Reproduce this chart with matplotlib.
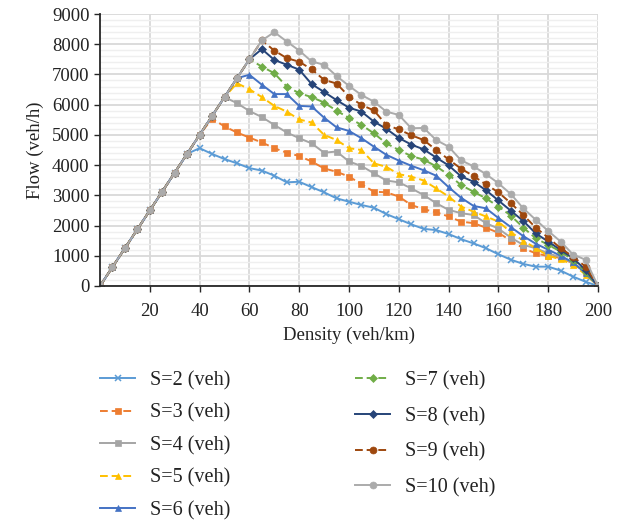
import numpy as np
import matplotlib
matplotlib.use("Agg")
import matplotlib.pyplot as plt
from matplotlib.ticker import MultipleLocator

plt.rcParams['font.family'] = ['Liberation Serif', 'DejaVu Serif']

density = list(range(0, 205, 5))

# free-flow branch shared by all curves (veh/h)
free_flow = [0, 625, 1250, 1875, 2500, 3125, 3750, 4375, 5000, 5625,
             6250, 6875, 7500, 8125]

s2 = free_flow[:8] + [4560, 4370, 4200, 4060, 3900, 3820, 3650, 3430, 3450, 3270,
                      3100, 2900, 2790, 2680, 2590, 2380, 2210, 2040, 1890, 1850,
                      1720, 1550, 1410, 1250, 1050, 870, 730, 640, 640, 510,
                      310, 140, 0]
s3 = free_flow[:9] + [5540, 5280, 5080, 4910, 4750, 4560, 4410, 4300, 4120,
                      3890, 3780, 3620, 3370, 3120, 3100, 2960, 2680, 2540, 2440,
                      2300, 2130, 2080, 1930, 1760, 1500, 1250, 1080, 990, 930,
                      750, 450, 0]
s4 = free_flow[:11] + [6050, 5790, 5590, 5330, 5080, 4890, 4720, 4410, 4450,
                       4120, 3970, 3730, 3490, 3430, 3230, 3010, 2740, 2520,
                       2410, 2350, 2080, 1900, 1600, 1360, 1250, 1080, 950, 760,
                       480, 0]
s5 = free_flow[:11] + [6710, 6510, 6250, 5960, 5770, 5510, 5410, 5000, 4830,
                       4560, 4500, 4060, 3940, 3700, 3620, 3490, 3230, 2960,
                       2630, 2460, 2300, 2130, 1780, 1500, 1250, 1000, 880, 700,
                       380, 0]
s6 = free_flow[:12] + [6990, 6660, 6350, 6350, 5960, 5940, 5570, 5250, 5130,
                       4890, 4610, 4340, 4150, 3980, 3830, 3650, 3270, 2920,
                       2650, 2570, 2250, 1950, 1650, 1400, 1200, 1000, 780, 420, 0]
s7 = free_flow[:13] + [7260, 7040, 6600, 6380, 6250, 6070, 5800, 5560, 5330,
                       5050, 4720, 4500, 4300, 4180, 3960, 3680, 3340, 3120,
                       2900, 2630, 2330, 1930, 1580, 1360, 1140, 860, 470, 0]
s8 = free_flow[:13] + [7840, 7480, 7320, 7160, 6680, 6420, 6150, 5900, 5770,
                       5440, 5200, 4900, 4680, 4520, 4250, 3990, 3630, 3450,
                       3170, 2830, 2490, 2150, 1740, 1470, 1190, 920, 530, 0]
s9 = free_flow[:14] + [7790, 7540, 7420, 7170, 6820, 6700, 6270, 5990, 5810,
                       5330, 5180, 4990, 4830, 4500, 4190, 3880, 3640, 3360,
                       3100, 2740, 2350, 1930, 1600, 1250, 970, 640, 0]
s10 = free_flow[:14] + [8400, 8090, 7790, 7430, 7320, 6950, 6620, 6320, 6100,
                        5770, 5660, 5220, 5230, 4830, 4610, 4160, 3960, 3700,
                        3400, 3040, 2570, 2190, 1820, 1470, 1040, 870, 0]

series = [s2, s3, s4, s5, s6, s7, s8, s9, s10]
labels = ['S=%d (veh)' % s for s in range(2, 11)]
colors = ['#5B9BD5', '#ED7D31', '#A5A5A5', '#FFC000', '#4472C4',
          '#70AD47', '#264478', '#9E480E', '#ABABAB']
markers = ['x', 's', 's', '^', '^', 'D', 'D', 'o', 'o']
msizes = [5, 4, 4, 5, 5, 4, 4, 5, 5]
styles = ['-', '--', '-', '--', '-', '--', '-', '--', '-']

fig = plt.figure(figsize=(6.29, 5.21), dpi=100)
ax = fig.add_axes([100 / 629, 1 - 286 / 521, 498 / 629, 272 / 521])

handles = []
for y, lab, c, m, ms, ls in zip(series, labels, colors, markers, msizes, styles):
    h, = ax.plot(density, y, color=c, marker=m, markersize=ms, linestyle=ls,
                 linewidth=1.4, label=lab, dashes=(4, 2) if ls == '--' else (None, None),
                 markeredgewidth=1.1 if m == 'x' else 0.5)
    handles.append(h)

ax.set_xlim(0, 200)
ax.set_ylim(0, 9000)
ax.yaxis.set_major_locator(MultipleLocator(1000))
ax.yaxis.set_minor_locator(MultipleLocator(200))
ax.set_xticks(range(20, 201, 20))
ax.grid(which='major', color='#D9D9D9', linewidth=1.3)
ax.grid(which='minor', axis='y', color='#EFEFEF', linewidth=1.0)
ax.set_axisbelow(True)
for side in ['top', 'right']:
    ax.spines[side].set_visible(False)
for side in ['left', 'bottom']:
    ax.spines[side].set_color('#262626')
    ax.spines[side].set_linewidth(1.3)
ax.tick_params(which='major', direction='out', length=4, width=1.0,
               color='#262626', labelsize=13.5, labelcolor='#222222')
ax.tick_params(which='minor', length=0)
ax.tick_params(axis='x', pad=8)
ax.set_xlabel('Density (veh/km)', fontsize=13.5, color='#222222', labelpad=5)
ax.set_ylabel('Flow (veh/h)', fontsize=13.5, color='#222222', labelpad=6)

leg_kw = dict(loc='upper left', frameon=False, fontsize=14.5, handlelength=1.75,
              handletextpad=0.75, borderaxespad=0, borderpad=0)
leg1 = fig.legend(handles[:5], labels[:5], bbox_to_anchor=(100 / 629, 1 - 371 / 521),
                  labelspacing=0.66, **leg_kw)
leg2 = fig.legend(handles[5:], labels[5:], bbox_to_anchor=(355 / 629, 1 - 371 / 521),
                  labelspacing=0.82, **leg_kw)
for t in leg1.get_texts() + leg2.get_texts():
    t.set_color('#222222')

fig.savefig('out.png', dpi=100)
